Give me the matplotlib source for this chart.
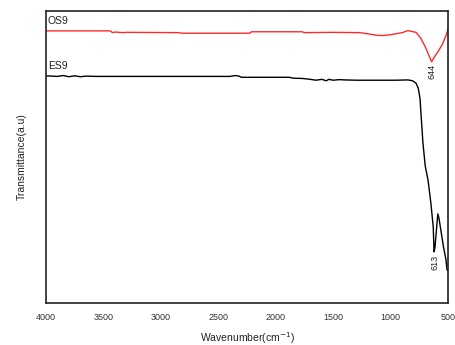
import matplotlib
matplotlib.use("Agg")
import matplotlib.pyplot as plt

plt.rcParams['font.family'] = ['Liberation Sans', 'DejaVu Sans']

# OS9 spectrum (wavenumber, transmittance a.u.)
os9_wn = [4000, 3800, 3440, 3420, 3400, 3330, 3300, 2840, 2820, 2230, 2210, 1770, 1750, 1500, 1270,
          1200, 1120, 1070, 1000, 900, 850, 780, 740, 700, 670, 644, 620, 590, 550, 520, 500]
os9_t = [93.2, 93.2, 93.2, 92.6, 92.8, 92.6, 92.7, 92.6, 92.4, 92.4, 92.9, 92.9, 92.6, 92.7, 92.6,
         92.2, 91.7, 91.6, 91.9, 92.6, 93.3, 92.7, 90.8, 87.8, 85.0, 82.6, 84.3, 86.0, 88.6, 91.5, 93.9]

# ES9 spectrum
es9_wn = [4000, 3900, 3850, 3800, 3750, 3700, 3650, 3560, 3300, 3000, 2700, 2400, 2350, 2320, 2300, 2100,
          1880, 1850, 1770, 1700, 1650, 1600, 1560, 1540, 1500, 1450, 1400, 1300, 1250, 1100, 950,
          850, 810, 780, 760, 745, 735, 720, 700, 675, 650, 630, 623, 615, 600, 590, 580, 560, 540, 520, 510, 500]
es9_t = [77.8, 77.6, 77.9, 77.5, 77.8, 77.5, 77.7, 77.6, 77.6, 77.6, 77.6, 77.6, 77.9, 77.7, 77.3, 77.3,
         77.3, 77.0, 76.9, 76.6, 76.3, 76.6, 76.1, 76.6, 76.3, 76.5, 76.4, 76.3, 76.3, 76.3, 76.3,
         76.4, 76.1, 75.3, 73.5, 70.0, 64.0, 55.0, 47.0, 42.0, 34.0, 26.0, 17.5, 19.0, 26.0, 30.5, 29.0, 24.0, 19.0, 15.0, 11.3, 11.0]

xticks = [4000, 3500, 3000, 2500, 2000, 1500, 1000, 500]

fig = plt.figure(figsize=(4.55, 3.45), dpi=100)
ax = fig.add_axes([0.101, 0.122, 0.884, 0.846])

ax.plot(os9_wn, os9_t, color='#ff2a2a', lw=1.0)
ax.plot(es9_wn, es9_t, color='black', lw=1.0)

ax.set_xlim(4000, 500)
ax.set_ylim(0, 100)
ax.set_xticks(xticks)
ax.set_xticklabels([str(t) for t in xticks], fontsize=6.5, color='#333333')
ax.set_yticks([])
ax.tick_params(axis='x', length=0, pad=7)
for s in ax.spines.values():
    s.set_linewidth(1.2)
    s.set_color('#222222')

ax.set_xlabel('Wavenumber(cm$^{-1}$)', fontsize=7.5, color='#222222', labelpad=6)
ax.set_ylabel('Transmittance(a.u)', fontsize=7.5, color='#222222', labelpad=14)

ax.text(3985, 95.0, 'OS9', fontsize=7.5, color='#222222', ha='left', va='bottom')
ax.text(3985, 79.5, 'ES9', fontsize=7.5, color='#222222', ha='left', va='bottom')

ax.text(644, 82.0, '644', fontsize=6.5, rotation=90, ha='center', va='top', color='#222222')
ax.text(613, 16.5, '613', fontsize=6.5, rotation=90, ha='center', va='top', color='#222222')

fig.savefig('out.png', dpi=100)
